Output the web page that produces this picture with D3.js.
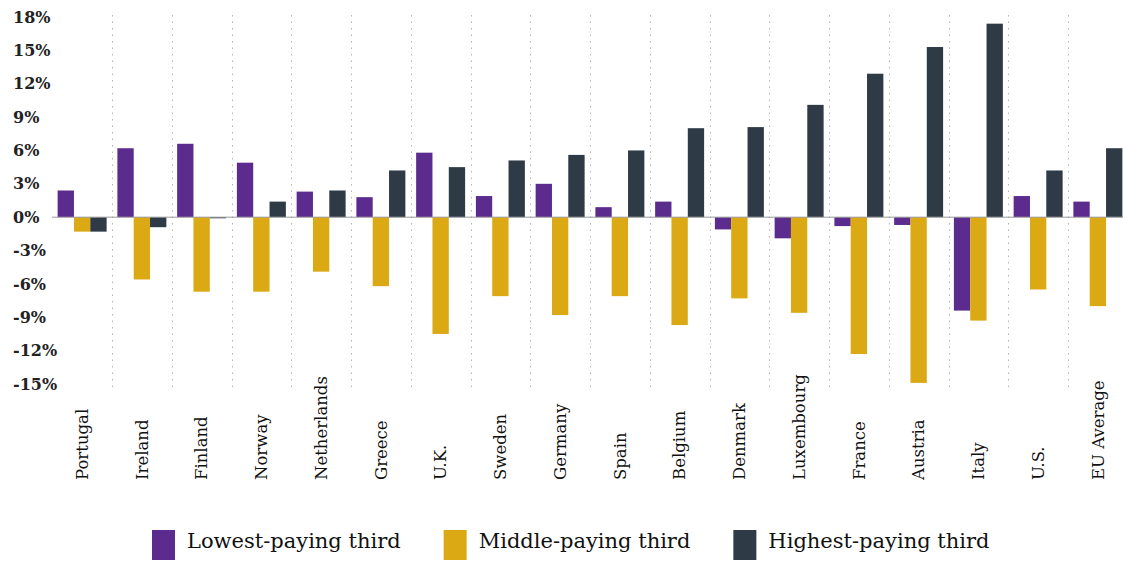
<!DOCTYPE html>
<html>
<head>
<meta charset="utf-8">
<script src="https://cdn.jsdelivr.net/npm/d3@7"></script>
<style>
  body { margin: 0; background: #fff; }
  svg { display: block; font-family: "DejaVu Serif", serif; }
</style>
</head>
<body>
<svg id="chart" width="1123" height="561"></svg>
<script>
const categories = ["Portugal", "Ireland", "Finland", "Norway", "Netherlands", "Greece", "U.K.", "Sweden",
  "Germany", "Spain", "Belgium", "Denmark", "Luxembourg", "France", "Austria", "Italy", "U.S.", "EU Average"];
const seriesNames = ["Lowest-paying third", "Middle-paying third", "Highest-paying third"];
const lowest  = [2.4, 6.2, 6.6, 4.9, 2.3, 1.8, 5.8, 1.9, 3.0, 0.9, 1.4, -1.1, -1.9, -0.8, -0.7, -8.4, 1.9, 1.4];
const middle  = [-1.3, -5.6, -6.7, -6.7, -4.9, -6.2, -10.5, -7.1, -8.8, -7.1, -9.7, -7.3, -8.6, -12.3, -14.9, -9.3, -6.5, -8.0];
const highest = [-1.3, -0.9, -0.1, 1.4, 2.4, 4.2, 4.5, 5.1, 5.6, 6.0, 8.0, 8.1, 10.1, 12.9, 15.3, 17.4, 4.2, 6.2];
const yTicks = [-15, -12, -9, -6, -3, 0, 3, 6, 9, 12, 15, 18];
const colors = ["#5c2b8e", "#dba914", "#2e3a46"];

const seriesValues = [lowest, middle, highest];
const svg = d3.select("#chart");

const x0 = d3.scaleBand().domain(categories).range([52.25, 1127.75]).padding(0);
const x1 = d3.scaleBand().domain(seriesNames).range([0, x0.bandwidth()])
  .paddingInner(0).paddingOuter(0.33);
const y = d3.scaleLinear().domain([-15, 18]).range([384, 17]);
const color = d3.scaleOrdinal().domain(seriesNames).range(colors);

// dotted separators between countries
svg.append("g")
  .selectAll("line")
  .data(categories.slice(1))
  .join("line")
    .attr("x1", d => Math.round(x0(d)) + 0.5)
    .attr("x2", d => Math.round(x0(d)) + 0.5)
    .attr("y1", 15)
    .attr("y2", 390)
    .attr("stroke", "#b4b4b4")
    .attr("stroke-width", 1)
    .attr("stroke-dasharray", "1.5,5");

// y axis labels
const yAxis = d3.axisLeft(y).tickValues(yTicks).tickSize(0).tickPadding(0).tickFormat(d => d + "%");
const gy = svg.append("g").attr("transform", "translate(13,0)").call(yAxis);
gy.select(".domain").remove();
gy.selectAll("text")
  .attr("text-anchor", "start")
  .attr("x", 0)
  .attr("fill", "#222")
  .style("font-size", "16px")
  .style("font-weight", "bold")
  .style("font-family", "'DejaVu Serif', serif");

// bars
const rows = categories.map((c, i) => ({ c, vals: seriesNames.map((s, k) => ({ s, v: seriesValues[k][i] })) }));
svg.append("g")
  .selectAll("g")
  .data(rows)
  .join("g")
    .attr("transform", d => `translate(${x0(d.c)},0)`)
  .selectAll("rect")
  .data(d => d.vals)
  .join("rect")
    .attr("x", d => x1(d.s))
    .attr("width", x1.bandwidth())
    .attr("y", d => y(Math.max(0, d.v)))
    .attr("height", d => Math.max(1, Math.abs(y(d.v) - y(0))))
    .attr("fill", d => color(d.s));

// zero line
svg.append("line")
  .attr("x1", 52).attr("x2", 1123)
  .attr("y1", y(0)).attr("y2", y(0))
  .attr("stroke", "#9a9a9a").attr("stroke-width", 1);

// x axis labels, rotated
const xAxis = d3.axisBottom(x0).tickSize(0).tickPadding(0);
const gx = svg.append("g").attr("transform", "translate(0,480)").call(xAxis);
gx.select(".domain").remove();
gx.selectAll("text")
  .attr("transform", "rotate(-90)")
  .attr("text-anchor", "start")
  .attr("x", 0)
  .attr("y", 0)
  .attr("dy", "0.35em")
  .attr("fill", "#111")
  .style("font-size", "16.5px")
  .style("font-family", "'DejaVu Serif', serif");

// legend
const legend = svg.append("g").attr("transform", "translate(152,530)");
let lx = 0;
seriesNames.forEach(s => {
  const item = legend.append("g").attr("transform", `translate(${lx},0)`);
  item.append("rect").attr("width", 23).attr("height", 30).attr("fill", color(s));
  const t = item.append("text")
    .attr("x", 35).attr("y", 18)
    .attr("fill", "#111")
    .style("font-size", "21px")
    .text(s);
  lx += 35 + t.node().getComputedTextLength() + 43;
});
</script>
</body>
</html>
